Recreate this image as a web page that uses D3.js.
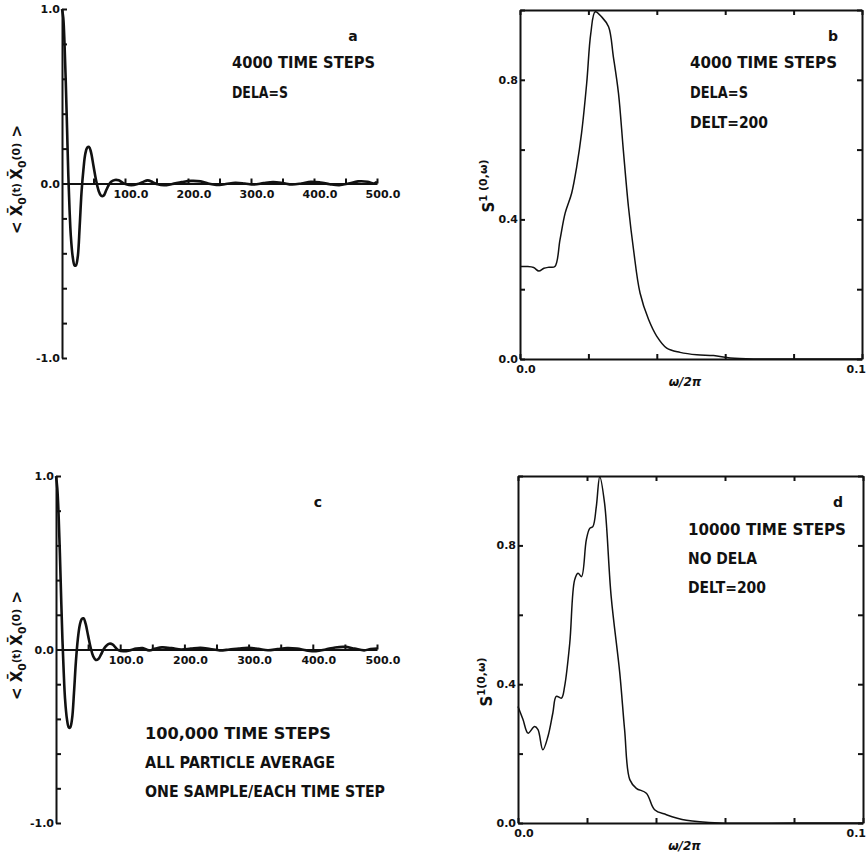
<!DOCTYPE html>
<html>
<head>
<meta charset="utf-8">
<script src="https://cdn.jsdelivr.net/npm/d3@7"></script>
<style>
  body { margin: 0; background: #fff; }
  text { font-family: "DejaVu Sans", sans-serif; font-weight: bold; fill: #111; }
</style>
</head>
<body>
<div id="chart"></div>
<script>
// autocorrelation <X0(t) X0(0)>, [t, value]
const corrA = [[0,1.0],[2,0.95],[4,0.8],[6,0.58],[8,0.32],[10,0.05],[12,-0.15],[14,-0.3],[17,-0.42],[20,-0.47],
  [22,-0.47],[25,-0.42],[28,-0.25],[31,-0.05],[34,0.08],[37,0.17],[40,0.205],[43,0.21],[46,0.18],[50,0.1],
  [54,0.02],[58,-0.04],[62,-0.07],[66,-0.07],[70,-0.04],[74,-0.01],[78,0.01],[84,0.02],[90,0.018],[96,0.005],
  [102,-0.005],[110,-0.01],[120,-0.003],[128,0.008],[136,0.018],[144,0.008],[152,-0.005],[162,-0.01],[175,-0.003],
  [190,0.008],[205,0.015],[220,0.012],[232,0.0],[245,-0.008],[260,-0.003],[275,0.004],[290,0.0],[305,-0.006],
  [320,0.002],[335,0.008],[350,0.003],[365,-0.006],[380,0.0],[395,0.01],[410,0.006],[425,-0.004],[440,-0.01],
  [455,0.0],[470,0.012],[485,0.01],[495,0.0],[500,0.01]];

const corrC = [[0,1.0],[2,0.93],[4,0.78],[6,0.56],[8,0.3],[10,0.06],[12,-0.13],[14,-0.28],[17,-0.4],[20,-0.45],
  [22,-0.45],[25,-0.4],[28,-0.25],[31,-0.07],[34,0.06],[37,0.14],[40,0.175],[43,0.18],[46,0.15],[50,0.08],
  [54,0.01],[58,-0.04],[62,-0.06],[66,-0.055],[70,-0.03],[74,0.0],[78,0.02],[83,0.033],[88,0.03],[93,0.01],
  [98,-0.005],[105,-0.01],[115,-0.005],[125,0.005],[135,0.008],[145,-0.005],[155,0.005],[165,0.012],[180,0.008],
  [195,0.0],[210,0.005],[225,0.01],[240,0.003],[255,-0.005],[270,0.0],[285,0.006],[300,0.01],[315,0.004],
  [330,-0.004],[345,0.002],[360,0.008],[375,0.005],[390,-0.005],[405,-0.01],[420,0.0],[435,0.012],[450,0.015],
  [465,0.005],[480,-0.005],[490,0.003],[500,0.005]];

// spectra S1(0,w), [w/2pi, value]
const specB = [[0,0.265],[0.002,0.265],[0.004,0.262],[0.0055,0.252],[0.007,0.26],[0.0085,0.263],[0.0102,0.265],
  [0.0117,0.342],[0.0132,0.418],[0.0151,0.475],[0.0166,0.552],[0.018,0.647],[0.0195,0.79],[0.0207,0.933],
  [0.022,0.995],[0.0239,0.98],[0.0259,0.952],[0.0273,0.866],[0.0288,0.761],[0.0302,0.6],[0.0317,0.437],
  [0.0332,0.313],[0.0351,0.189],[0.0376,0.113],[0.04,0.065],[0.0429,0.031],[0.0468,0.019],[0.0517,0.012],
  [0.0566,0.01],[0.0615,0.003],[0.0683,0],[0.08,0],[0.1,0]];

const specD = [[0,0.336],[0.00145,0.298],[0.0029,0.259],[0.0048,0.278],[0.0058,0.269],[0.0072,0.211],[0.0087,0.25],
  [0.0101,0.317],[0.0111,0.365],[0.0126,0.36],[0.0135,0.393],[0.015,0.518],[0.0164,0.7],[0.0174,0.72],
  [0.0184,0.71],[0.0198,0.816],[0.0208,0.849],[0.0217,0.854],[0.0227,0.912],[0.0237,0.998],[0.0251,0.921],
  [0.027,0.653],[0.0295,0.432],[0.0309,0.269],[0.0324,0.125],[0.0343,0.1],[0.0372,0.086],[0.0396,0.038],
  [0.043,0.024],[0.0488,0.008],[0.0585,0.0],[0.08,0],[0.1,0]];

const corrXTicks = [50,100,150,200,250,300,350,400,450,500];
const corrXLabels = [100,200,300,400,500];
const corrYTicks = [-1,-0.8,-0.6,-0.4,-0.2,0,0.2,0.4,0.6,0.8,1];
const corrYLabels = [1,0,-1];
const specXTicks = [0,0.02,0.04,0.06,0.08,0.1];
const specYTicks = [0,0.2,0.4,0.6,0.8,1];
const specYLabels = [0.0,0.4,0.8];

const notesA = ["4000 TIME STEPS", "DELA=S"];
const notesB = ["4000 TIME STEPS", "DELA=S", "DELT=200"];
const notesC = ["100,000 TIME STEPS", "ALL PARTICLE AVERAGE", "ONE SAMPLE/EACH TIME STEP"];
const notesD = ["10000 TIME STEPS", "NO DELA", "DELT=200"];

const svg = d3.select('#chart').append('svg')
  .attr('width', 867).attr('height', 865);

function notes(lines, x, y0, gap, widths) {
  lines.forEach((t, i) => {
    svg.append('text')
      .attr('x', x).attr('y', y0 + i * gap)
      .attr('font-size', 15)
      .attr('textLength', widths[i]).attr('lengthAdjust', 'spacingAndGlyphs')
      .text(t);
  });
}

function corrPanel(cfg) {
  const x = d3.scaleLinear().domain([0, 500]).range([cfg.left, 377]);
  const y = d3.scaleLinear().domain([-1, 1]).range([cfg.bottom, cfg.top]);
  const g = svg.append('g');

  g.append('g')
    .attr('transform', `translate(${x(0)},0)`)
    .call(d3.axisRight(y).tickValues(corrYTicks).tickSize(5).tickSizeOuter(0).tickFormat(''))
    .call(a => a.selectAll('path,line').attr('stroke', '#111').attr('stroke-width', 2));

  g.append('g')
    .attr('transform', `translate(0,${y(0)})`)
    .call(d3.axisTop(x).tickValues(corrXTicks).tickSize(5).tickSizeOuter(0).tickFormat(''))
    .call(a => a.selectAll('path,line').attr('stroke', '#111').attr('stroke-width', 2));

  g.selectAll('.xl').data(corrXLabels).enter().append('text')
    .attr('x', d => x(d) + 6).attr('y', y(0) + 14)
    .attr('text-anchor', 'middle').attr('font-size', 11)
    .text(d => d.toFixed(1));

  g.selectAll('.yl').data(corrYLabels).enter().append('text')
    .attr('x', x(0) - 2).attr('y', d => y(d) + 4)
    .attr('text-anchor', 'end').attr('font-size', 11)
    .text(d => d.toFixed(1));

  g.append('path')
    .datum(cfg.data)
    .attr('fill', 'none').attr('stroke', '#111').attr('stroke-width', 2.6)
    .attr('d', d3.line().x(d => x(d[0])).y(d => y(d[1])).curve(d3.curveCatmullRom));

  // rotated y label  < X0(t) X0(0) >
  const lab = g.append('text')
    .attr('transform', `translate(${cfg.labX},${y(0) - 4}) rotate(-90)`)
    .attr('text-anchor', 'middle').attr('font-size', 15);
  lab.append('tspan').text('< X\u0304');
  lab.append('tspan').attr('font-size', 11).attr('dy', 4).text('0');
  lab.append('tspan').attr('font-size', 10).attr('dy', -6).text('(t) ');
  lab.append('tspan').attr('dy', 2).text('X\u0304');
  lab.append('tspan').attr('font-size', 11).attr('dy', 4).text('0');
  lab.append('tspan').attr('font-size', 11).attr('dy', -6).text('(0)');
  lab.append('tspan').attr('dy', 2).text(' >');

  svg.append('text').attr('x', cfg.letterX).attr('y', cfg.letterY)
    .attr('font-size', 14).attr('text-anchor', 'middle').text(cfg.letter);
}

function specPanel(cfg) {
  const x = d3.scaleLinear().domain([0, 0.1]).range([cfg.left, cfg.right]);
  const y = d3.scaleLinear().domain([0, 1]).range([cfg.bottom, cfg.top]);
  const g = svg.append('g');
  const style = a => a.selectAll('path,line').attr('stroke', '#111').attr('stroke-width', 2);

  g.append('g').attr('transform', `translate(0,${cfg.bottom})`)
    .call(d3.axisTop(x).tickValues(specXTicks).tickSize(5).tickSizeOuter(0).tickFormat('')).call(style);
  g.append('g').attr('transform', `translate(0,${cfg.top})`)
    .call(d3.axisBottom(x).tickValues(specXTicks).tickSize(5).tickSizeOuter(0).tickFormat('')).call(style);
  g.append('g').attr('transform', `translate(${cfg.left},0)`)
    .call(d3.axisRight(y).tickValues(specYTicks).tickSize(5).tickSizeOuter(0).tickFormat('')).call(style);
  g.append('g').attr('transform', `translate(${cfg.right},0)`)
    .call(d3.axisLeft(y).tickValues(specYTicks).tickSize(5).tickSizeOuter(0).tickFormat('')).call(style);

  g.selectAll('.yl').data(specYLabels).enter().append('text')
    .attr('x', cfg.left - 2).attr('y', d => y(d) + 4)
    .attr('text-anchor', 'end').attr('font-size', 11)
    .text(d => d.toFixed(1));
  g.selectAll('.xl').data([0, 0.1]).enter().append('text')
    .attr('x', d => d === 0 ? x(d) + 6 : 866).attr('y', cfg.bottom + 14)
    .attr('text-anchor', d => d === 0 ? 'middle' : 'end').attr('font-size', 11)
    .text(d => d.toFixed(1));

  g.append('path')
    .datum(cfg.data)
    .attr('fill', 'none').attr('stroke', '#111').attr('stroke-width', 1.5)
    .attr('d', d3.line().x(d => x(d[0])).y(d => y(d[1])).curve(d3.curveCatmullRom));

  const lab = g.append('text')
    .attr('transform', `translate(${cfg.labX},${cfg.labY}) rotate(-90)`)
    .attr('text-anchor', 'middle').attr('font-size', 15);
  lab.append('tspan').text('S');
  lab.append('tspan').attr('font-size', 10).attr('dy', -7).text('1');
  lab.append('tspan').attr('font-size', 11).text(cfg.gap ? ' (0,\u03c9)' : '(0,\u03c9)');

  g.append('text').attr('x', (cfg.left + cfg.right) / 2 - 6).attr('y', cfg.bottom + 27)
    .attr('text-anchor', 'middle').attr('font-size', 12).attr('font-weight', 'normal')
    .attr('font-style', 'italic').text('\u03c9/2\u03c0');

  svg.append('text').attr('x', cfg.letterX).attr('y', cfg.letterY)
    .attr('font-size', 14).attr('text-anchor', 'middle').text(cfg.letter);
}

corrPanel({ data: corrA, left: 62, top: 9, bottom: 358, labX: 22, letter: 'a', letterX: 353, letterY: 41 });
corrPanel({ data: corrC, left: 56, top: 476, bottom: 823, labX: 22, letter: 'c', letterX: 318, letterY: 507 });
specPanel({ data: specB, left: 520, right: 862, top: 10, bottom: 359, labX: 494, labY: 186, gap: true,
  letter: 'b', letterX: 833, letterY: 41 });
specPanel({ data: specD, left: 518, right: 863, top: 476, bottom: 823, labX: 492, labY: 682, gap: false,
  letter: 'd', letterX: 838, letterY: 507 });

notes(notesA, 232, 68, 30, [143, 56]);
notes(notesB, 690, 68, 30, [147, 58, 78]);
notes(notesC, 145, 739, 29, [186, 190, 240]);
notes(notesD, 688, 535, 29, [158, 69, 78]);
</script>
</body>
</html>
